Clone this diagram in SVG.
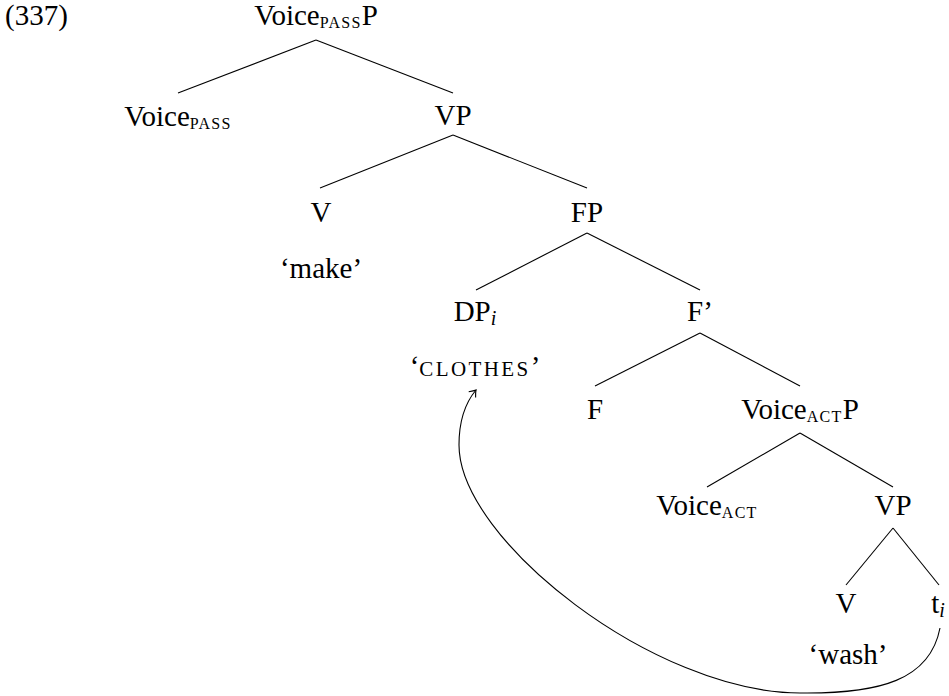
<svg xmlns="http://www.w3.org/2000/svg" width="949" height="696" viewBox="0 0 949 696">
<style>
text{font-family:"Liberation Serif","Times New Roman",serif;font-size:29px;fill:#000}
.n{text-anchor:middle}
.sc{font-size:16px;letter-spacing:1.3px}
.sc2{font-size:21px;letter-spacing:2.4px}
.it{font-style:italic;font-size:20px}
.e{stroke:#000;stroke-width:1.1;fill:none}
</style>
<defs>
<marker id="to" viewBox="-8 -6 10 12" markerWidth="10" markerHeight="12" refX="0" refY="0" orient="auto" markerUnits="userSpaceOnUse">
<path d="M-6,-4.5 Q-2,-1 0,0 Q-2,1 -6,4.5" fill="none" stroke="#000" stroke-width="1.1"/>
</marker>
</defs>
<rect width="949" height="696" fill="#fff"/>
<g id="label"><text x="5" y="25">(337)</text></g>
<g id="connectors">
<line class="e" x1="316" y1="40" x2="178" y2="93"/>
<line class="e" x1="316" y1="40" x2="453" y2="93"/>
<line class="e" x1="453" y1="135" x2="320" y2="188"/>
<line class="e" x1="453" y1="135" x2="587" y2="188"/>
<line class="e" x1="587" y1="233" x2="476" y2="290"/>
<line class="e" x1="587" y1="233" x2="700" y2="290"/>
<line class="e" x1="700" y1="333" x2="595" y2="386"/>
<line class="e" x1="700" y1="333" x2="800" y2="386"/>
<line class="e" x1="800" y1="433" x2="707" y2="487"/>
<line class="e" x1="800" y1="433" x2="893" y2="487"/>
<line class="e" x1="893" y1="528" x2="846" y2="585"/>
<line class="e" x1="893" y1="528" x2="939" y2="585"/>
<path class="e" d="M940,628 C930,680 880,694 800,693 C655,693 459,540 459,445 C459,420 466,402 476,390" marker-end="url(#to)"/>
</g>
<g id="n-root"><text class="n" x="316" y="25">Voice<tspan class="sc" dy="3">PASS</tspan><tspan dy="-3">P</tspan></text></g>
<g id="n-voicepass"><text class="n" x="178" y="126">Voice<tspan class="sc" dy="3">PASS</tspan></text></g>
<g id="n-vp1"><text class="n" x="453" y="125">VP</text></g>
<g id="n-v1"><text class="n" x="321" y="222">V</text></g>
<g id="n-make"><text class="n" x="321" y="278">‘make’</text></g>
<g id="n-fp"><text class="n" x="587" y="222">FP</text></g>
<g id="n-dp"><text class="n" x="475" y="321">DP<tspan class="it" dy="4">i</tspan></text></g>
<g id="n-clothes"><text class="n" x="475" y="376">‘<tspan class="sc2">CLOTHES</tspan>’</text></g>
<g id="n-fbar"><text class="n" x="700" y="321">F’</text></g>
<g id="n-f"><text class="n" x="595" y="419">F</text></g>
<g id="n-voiceactp"><text class="n" x="800" y="419">Voice<tspan class="sc" dy="3">ACT</tspan><tspan dy="-3">P</tspan></text></g>
<g id="n-voiceact"><text class="n" x="707" y="515">Voice<tspan class="sc" dy="3">ACT</tspan></text></g>
<g id="n-vp2"><text class="n" x="893" y="515">VP</text></g>
<g id="n-v2"><text class="n" x="846" y="613">V</text></g>
<g id="n-wash"><text class="n" x="848" y="664">‘wash’</text></g>
<g id="n-t"><text class="n" x="938" y="613">t<tspan class="it" dy="4">i</tspan></text></g>
</svg>
